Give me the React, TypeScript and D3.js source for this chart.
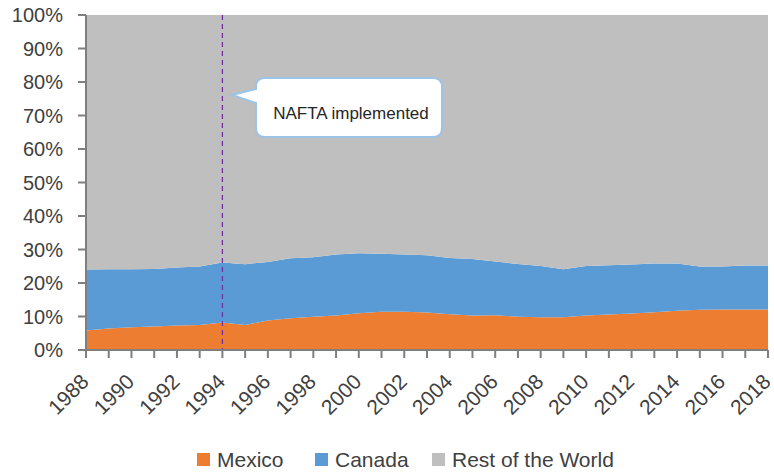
import React from "react";
import * as d3 from "d3";

const years = d3.range(1988, 2019);
const mexico = [5.8, 6.4, 6.8, 7.0, 7.3, 7.5, 8.2, 7.5, 8.8, 9.5, 9.9, 10.3, 11.0, 11.4, 11.4, 11.2, 10.7, 10.3, 10.4, 9.9, 9.8, 9.8, 10.3, 10.6, 10.9, 11.3, 11.7, 12.0, 12.1, 12.1, 12.1];
const mexicoPlusCanada = [24.0, 24.1, 24.1, 24.2, 24.6, 24.9, 26.1, 25.6, 26.3, 27.4, 27.7, 28.5, 28.9, 28.7, 28.5, 28.3, 27.5, 27.2, 26.4, 25.7, 25.1, 24.1, 25.1, 25.3, 25.5, 25.8, 25.8, 24.9, 24.9, 25.2, 25.2];
const canada = mexicoPlusCanada.map((t, i) => t - mexico[i]);
const restOfWorld = mexicoPlusCanada.map((t) => 100 - t);
const seriesNames = ["Mexico", "Canada", "Rest of the World"];
const seriesColors = ["#ED7D31", "#5B9BD5", "#BFBFBF"];
const yTicks = d3.range(0, 101, 10);
const xLabelYears = d3.range(1988, 2019, 2);
const eventYear = 1994;
const eventLabel = "NAFTA implemented";

const W = 774, H = 472;
const M = { left: 86, right: 6, top: 15, bottom: 122 };
const FONT = "'Liberation Sans', Arial, sans-serif";

export default function App() {
  const x = d3.scaleLinear().domain([1988, 2018]).range([M.left, W - M.right]);
  const y = d3.scaleLinear().domain([0, 100]).range([H - M.bottom, M.top]);
  const rows = years.map((yr, i) => ({ year: yr, Mexico: mexico[i], Canada: canada[i], "Rest of the World": restOfWorld[i] }));
  const stacked = d3.stack<any>().keys(seriesNames)(rows);
  const area = d3
    .area<any>()
    .x((d) => x(d.data.year))
    .y0((d) => y(d[0]))
    .y1((d) => y(d[1]))
    .curve(d3.curveLinear);
  const axisColor = "#7F7F7F";
  const textColor = "#404040";
  const y0 = y(0);
  const ex = x(eventYear);

  // callout
  const cx0 = 256, cy0 = 78, cw = 186, ch = 59, r = 9;
  const tipX = 232, tipY = 95;
  const calloutPath =
    `M${cx0 + r},${cy0} H${cx0 + cw - r} Q${cx0 + cw},${cy0} ${cx0 + cw},${cy0 + r} ` +
    `V${cy0 + ch - r} Q${cx0 + cw},${cy0 + ch} ${cx0 + cw - r},${cy0 + ch} ` +
    `H${cx0 + r} Q${cx0},${cy0 + ch} ${cx0},${cy0 + ch - r} V${cy0 + 25} L${tipX},${tipY} L${cx0},${cy0 + 11} V${cy0 + r} ` +
    `Q${cx0},${cy0} ${cx0 + r},${cy0} Z`;

  const legendItems = [
    { name: seriesNames[0], color: seriesColors[0], x: 197 },
    { name: seriesNames[1], color: seriesColors[1], x: 315 },
    { name: seriesNames[2], color: seriesColors[2], x: 432 },
  ];

  return (
    <svg width={W} height={H} style={{ position: "absolute", left: 0, top: 0 }} fontFamily={FONT}>
      <rect width={W} height={H} fill="#fff" />
      {stacked.map((s, i) => (
        <path key={s.key} d={area(s) || ""} fill={seriesColors[i]} />
      ))}
      {/* event line */}
      <line x1={ex} x2={ex} y1={M.top} y2={y0} stroke="#7030A0" strokeWidth={1.3} strokeDasharray="5,4" />
      {/* axes */}
      <line x1={M.left} x2={M.left} y1={M.top} y2={y0} stroke={axisColor} strokeWidth={2} />
      <line x1={M.left} x2={W - M.right} y1={y0} y2={y0} stroke={axisColor} strokeWidth={2} />
      {yTicks.map((t) => (
        <g key={t}>
          <line x1={M.left - 8} x2={M.left} y1={y(t)} y2={y(t)} stroke={axisColor} strokeWidth={2} />
          <text x={63} y={y(t)} dy="0.35em" textAnchor="end" fontSize={20} fill={textColor}>
            {t}%
          </text>
        </g>
      ))}
      {years.map((yr) => (
        <line key={yr} x1={x(yr)} x2={x(yr)} y1={y0} y2={y0 + 8} stroke={axisColor} strokeWidth={2} />
      ))}
      {xLabelYears.map((yr) => (
        <text
          key={yr}
          transform={`translate(${x(yr) + 4},${y0 + 33}) rotate(-45)`}
          textAnchor="end"
          fontSize={21}
          fill={textColor}
        >
          {yr}
        </text>
      ))}
      {/* callout */}
      <path d={calloutPath} fill="#fff" stroke="#9DC3E6" strokeWidth={2} />
      <text x={cx0 + cw / 2 + 2} y={cy0 + 41} textAnchor="middle" fontSize={17} fill="#262626">
        {eventLabel}
      </text>
      {/* legend */}
      {legendItems.map((it) => (
        <g key={it.name}>
          <rect x={it.x} y={453} width={13} height={13} fill={it.color} />
          <text x={it.x + 20} y={459.5} dy="0.35em" fontSize={21} fill={textColor}>
            {it.name}
          </text>
        </g>
      ))}
    </svg>
  );
}
